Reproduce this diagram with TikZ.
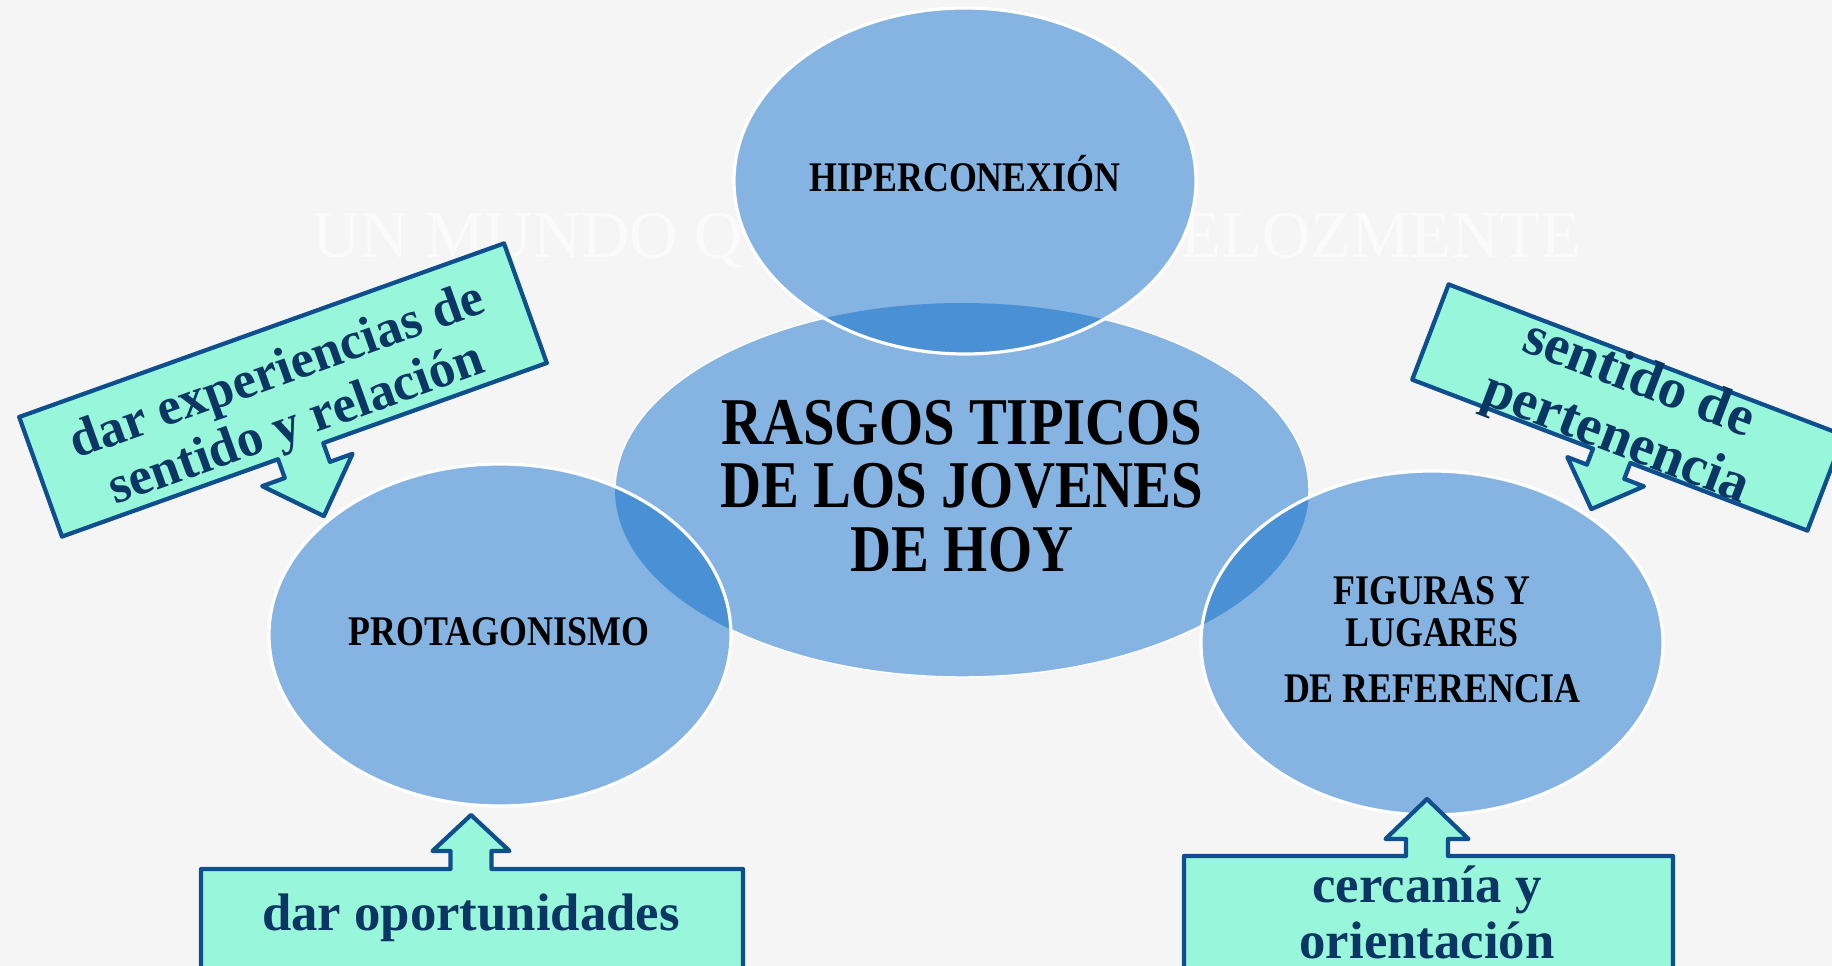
\documentclass[tikz,border=0pt]{standalone}
\usepackage{fontspec}
\setmainfont{Liberation Serif}
\newfontfamily\narrowserif[FakeStretch=0.85]{Liberation Serif}

\definecolor{ovalblue}{HTML}{86B4E2}
\definecolor{overlapblue}{HTML}{4A90D4}
\definecolor{pointerfill}{HTML}{98F6DA}
\definecolor{pointerline}{HTML}{0F4F8E}
\definecolor{pointerink}{HTML}{0B3562}

% box with an arrow under it: half width, half height, arrow x,
% shaft half width, head half width, shaft length, head length
\newcommand{\arrowbox}[7]{(-#1,#2) -- (#1,#2) -- (#1,-#2) -- (#3+#4,-#2)
  -- (#3+#4,-#2-#6) -- (#3+#5,-#2-#6) -- (#3,-#2-#6-#7) -- (#3-#5,-#2-#6)
  -- (#3-#4,-#2-#6) -- (#3-#4,-#2) -- (-#1,-#2) -- cycle}

\begin{document}
\begin{tikzpicture}[x=0.01cm, y=0.01cm,
    oval/.style={fill=ovalblue},
    rim/.style={draw=white, line width=0.9pt},
    ovaltext/.style={font=\narrowserif\bfseries\fontsize{12}{12}\selectfont, align=center},
    pointer/.style={fill=pointerfill, draw=pointerline, line width=1.2pt, line join=round},
    pointertext/.style={text=pointerink, font=\bfseries\fontsize{15}{16}\selectfont, align=center}]

  \useasboundingbox (0,0) rectangle (1832,966);
  \clip (0,0) rectangle (1832,966);
  \fill[black!4] (0,0) rectangle (1832,966);
  \node[black!1.5, font=\fontsize{19}{19}\selectfont] (motto) at (947,725) {UN MUNDO QUE CAMBIA VELOZMENTE};

  % the four ovals
  \fill[oval] (962,476) ellipse (347 and 187);
  \draw[white, line width=0.4pt] (962,476) ellipse (347 and 187);
  \fill[oval] (965,785) ellipse (231 and 173);
  \fill[oval] (500,331) ellipse (231 and 171);
  \fill[oval] (1432,323) ellipse (231 and 172);
  \begin{scope}
    \clip (962,476) ellipse (347 and 187);
    \fill[overlapblue] (965,785) ellipse (231 and 173);
    \fill[overlapblue] (500,331) ellipse (231 and 171);
    \fill[overlapblue] (1432,323) ellipse (231 and 172);
  \end{scope}
  \draw[rim] (965,785) ellipse (231 and 173);
  \draw[rim] (500,331) ellipse (231 and 171);
  \draw[rim] (1432,323) ellipse (231 and 172);

  \node[ovaltext] (hiper) at (965,792) {HIPERCONEXIÓN};
  \node[ovaltext, font=\narrowserif\bfseries\fontsize{19}{18}\selectfont] (rasgos) at (962,480)
    {RASGOS TIPICOS\\DE LOS JOVENES\\DE HOY};
  \node[ovaltext] (proto) at (499,334) {PROTAGONISMO};
  \node[ovaltext] (figuras) at (1432,326) {FIGURAS Y\\LUGARES\\[4pt]DE REFERENCIA};

  % arrow boxes
  \begin{scope}[shift={(283,576)}, rotate=19.7, transform shape]
    \draw[pointer] \arrowbox{257.5}{63.5}{-4}{24}{48}{20}{49};
    \node[pointertext] (experiencias) at (1,-11) {dar experiencias de\\sentido y relación};
  \end{scope}

  \begin{scope}[shift={(1628,558.5)}, rotate=-20.9, transform shape]
    \draw[pointer] \arrowbox{211.5}{51}{2}{20}{41}{17}{40};
    \node[pointertext, font=\bfseries\fontsize{16}{18}\selectfont] (pertenencia) at (0,-3.5)
      {sentido de\\pertenencia};
  \end{scope}

  \begin{scope}[shift={(472,47)}, yscale=-1]
    \draw[pointer] \arrowbox{271}{50}{-1}{20.5}{38.5}{18}{36};
    \node[pointertext] (oportunidades) at (-1,-1) {dar oportunidades};
  \end{scope}

  \begin{scope}[shift={(1428.5,53.5)}, yscale=-1]
    \draw[pointer] \arrowbox{244.5}{56.5}{-1.5}{21}{41.5}{17}{40};
    \node[pointertext] (cercania) at (-1.5,0) {cercanía y\\orientación};
  \end{scope}

\end{tikzpicture}
\end{document}
